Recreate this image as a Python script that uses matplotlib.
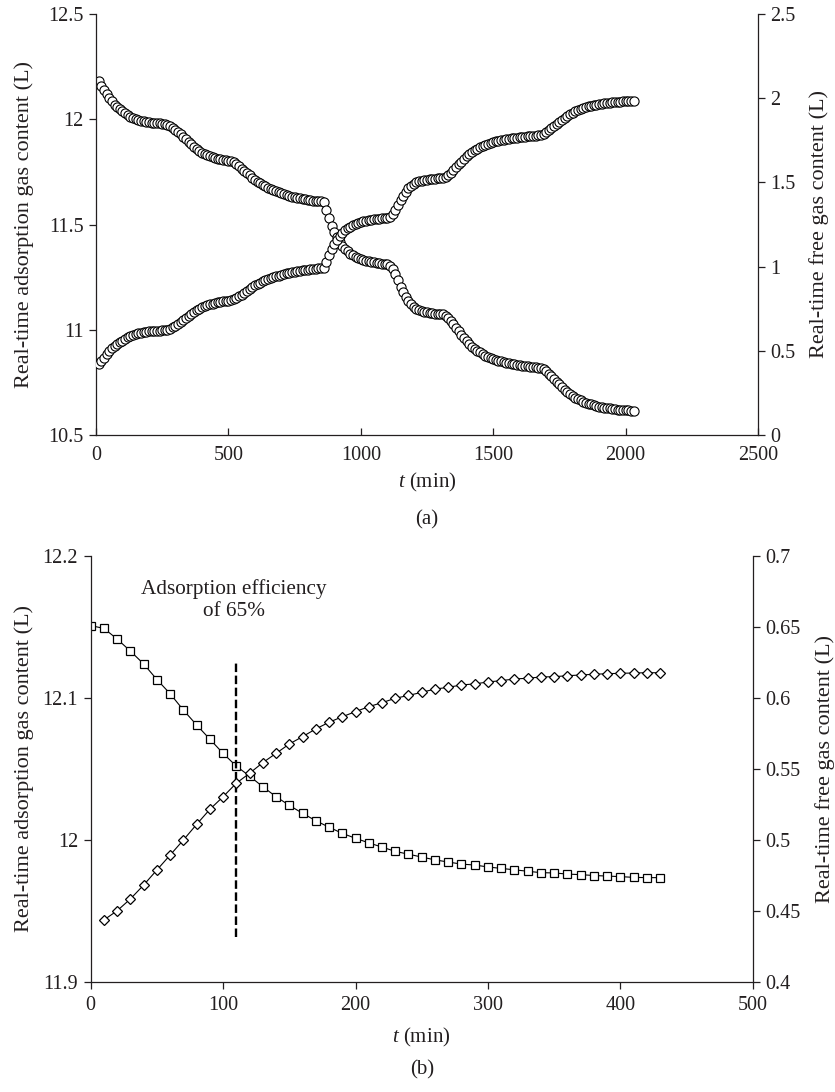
import numpy as np
import matplotlib
matplotlib.use("Agg")
import matplotlib.pyplot as plt
from matplotlib.ticker import FuncFormatter, MultipleLocator

plt.rcParams['font.family'] = ['Liberation Serif', 'DejaVu Serif']
plt.rcParams['mathtext.fontset'] = 'custom'
plt.rcParams['mathtext.it'] = 'Liberation Serif:italic'
plt.rcParams['mathtext.rm'] = 'Liberation Serif'
TXT = '#231f20'
FS = 14.5
FS_LAB = 16
FS_X = 15

# ---------------- panel (a) data ----------------
t_a = np.arange(10, 2031, 10)
ads_a = [
    12.18, 12.16, 12.14, 12.12, 12.10, 12.085, 12.07, 12.06, 12.05, 12.04,
    12.03, 12.02, 12.012, 12.005, 12.0, 11.996, 11.993, 11.99, 11.987, 11.985,
    11.983, 11.982, 11.981, 11.98, 11.979, 11.978, 11.975, 11.97, 11.96, 11.95,
    11.94, 11.93, 11.918, 11.906, 11.894, 11.882, 11.87, 11.86, 11.85, 11.842,
    11.835, 11.829, 11.824, 11.82, 11.816, 11.813, 11.81, 11.807, 11.805, 11.803,
    11.80, 11.795, 11.787, 11.777, 11.766, 11.755, 11.744, 11.733, 11.722, 11.712,
    11.703, 11.695, 11.688, 11.681, 11.675, 11.669, 11.663, 11.658, 11.653, 11.648,
    11.644, 11.64, 11.636, 11.633, 11.63, 11.627, 11.625, 11.622, 11.62, 11.618,
    11.616, 11.614, 11.613, 11.611, 11.61, 11.607, 11.57, 11.53, 11.495, 11.465,
    11.44, 11.418, 11.40, 11.385, 11.372, 11.362, 11.354, 11.347, 11.341, 11.336,
    11.332, 11.328, 11.325, 11.322, 11.32, 11.318, 11.316, 11.314, 11.312, 11.31,
    11.305, 11.29, 11.265, 11.235, 11.205, 11.178, 11.155, 11.136, 11.12, 11.108,
    11.10, 11.094, 11.09, 11.086, 11.083, 11.081, 11.079, 11.077, 11.076, 11.074,
    11.073, 11.066, 11.055, 11.042, 11.027, 11.01, 10.993, 10.976, 10.96, 10.945,
    10.932, 10.92, 10.909, 10.9, 10.892, 10.884, 10.877, 10.871, 10.866, 10.861,
    10.857, 10.853, 10.85, 10.847, 10.844, 10.841, 10.838, 10.836, 10.834, 10.832,
    10.83, 10.828, 10.826, 10.825, 10.823, 10.822, 10.82, 10.818, 10.812, 10.802,
    10.79, 10.778, 10.765, 10.752, 10.74, 10.728, 10.716, 10.705, 10.695, 10.686,
    10.678, 10.671, 10.665, 10.659, 10.654, 10.649, 10.645, 10.641, 10.638, 10.635,
    10.632, 10.63, 10.628, 10.626, 10.624, 10.622, 10.621, 10.62, 10.619, 10.618,
    10.617, 10.616, 10.616,
]
free_a = [
    0.42, 0.44, 0.46, 0.48, 0.50, 0.515, 0.53, 0.54, 0.55, 0.56,
    0.57, 0.58, 0.588, 0.595, 0.60, 0.604, 0.607, 0.61, 0.613, 0.615,
    0.617, 0.618, 0.619, 0.62, 0.621, 0.622, 0.625, 0.63, 0.64, 0.65,
    0.66, 0.67, 0.682, 0.694, 0.706, 0.718, 0.73, 0.74, 0.75, 0.758,
    0.765, 0.771, 0.776, 0.78, 0.784, 0.787, 0.79, 0.793, 0.795, 0.797,
    0.80, 0.805, 0.813, 0.823, 0.834, 0.845, 0.856, 0.867, 0.878, 0.888,
    0.897, 0.905, 0.912, 0.919, 0.925, 0.931, 0.937, 0.942, 0.947, 0.952,
    0.956, 0.96, 0.964, 0.967, 0.97, 0.973, 0.975, 0.978, 0.98, 0.982,
    0.984, 0.986, 0.987, 0.989, 0.99, 0.993, 1.03, 1.07, 1.105, 1.135,
    1.16, 1.182, 1.20, 1.215, 1.228, 1.238, 1.246, 1.253, 1.259, 1.264,
    1.268, 1.272, 1.275, 1.278, 1.28, 1.282, 1.284, 1.286, 1.288, 1.29,
    1.295, 1.31, 1.335, 1.365, 1.395, 1.422, 1.445, 1.464, 1.48, 1.492,
    1.50, 1.506, 1.51, 1.514, 1.517, 1.519, 1.521, 1.523, 1.524, 1.526,
    1.527, 1.534, 1.545, 1.558, 1.573, 1.59, 1.607, 1.624, 1.64, 1.655,
    1.668, 1.68, 1.691, 1.70, 1.708, 1.716, 1.723, 1.729, 1.734, 1.739,
    1.743, 1.747, 1.75, 1.753, 1.756, 1.759, 1.762, 1.764, 1.766, 1.768,
    1.77, 1.772, 1.774, 1.775, 1.777, 1.778, 1.78, 1.782, 1.788, 1.798,
    1.81, 1.822, 1.835, 1.848, 1.86, 1.872, 1.884, 1.895, 1.905, 1.914,
    1.922, 1.929, 1.935, 1.941, 1.946, 1.951, 1.955, 1.959, 1.962, 1.965,
    1.968, 1.97, 1.972, 1.974, 1.976, 1.978, 1.979, 1.98, 1.981, 1.982,
    1.983, 1.984, 1.984,
]

# ---------------- panel (b) data ----------------
t_b_ads = np.arange(0, 431, 10)
ads_b = [
    12.151, 12.149, 12.1415, 12.133, 12.124, 12.113, 12.103, 12.0915, 12.081, 12.071,
    12.061, 12.052, 12.045, 12.0375, 12.0305, 12.0244, 12.0188, 12.0136, 12.009, 12.0047,
    12.0012, 11.998, 11.995, 11.992, 11.990, 11.988, 11.986, 11.9845, 11.983, 11.9824,
    11.981, 11.980, 11.979, 11.978, 11.977, 11.9768, 11.976, 11.9756, 11.975, 11.9746,
    11.9742, 11.9737, 11.9735, 11.9735,
]
t_b_free = np.arange(10, 431, 10)
free_b = [
    0.4437, 0.4502, 0.4585, 0.4683, 0.4789, 0.4894, 0.500, 0.511, 0.5216, 0.5305,
    0.540, 0.547, 0.5545, 0.561, 0.5676, 0.5728, 0.5782, 0.5829, 0.5868, 0.5904,
    0.5939, 0.5967, 0.5998, 0.6018, 0.604, 0.6063, 0.6075, 0.6092, 0.6099, 0.6113,
    0.6122, 0.6134, 0.6139, 0.6148, 0.615, 0.6157, 0.6162, 0.6167, 0.6171, 0.6174,
    0.6176, 0.6178, 0.6178,
]
eff_t = 110
eff_ymin, eff_ymax = 11.932, 12.126
eff_label = "Adsorption efficiency\nof 65%"

ylab_left = "Real-time adsorption gas content (L)"
ylab_right = "Real-time free gas content (L)"

fmt = FuncFormatter(lambda v, p: '%g' % round(v, 4))

fig = plt.figure(figsize=(8.35, 10.92), dpi=100)


def style(ax, axr, xdir):
    for a in (ax, axr):
        a.spines['top'].set_visible(False)
        for s in a.spines.values():
            s.set_color(TXT)
            s.set_linewidth(0.9)
    ax.spines['right'].set_visible(False)
    axr.spines['left'].set_visible(False)
    axr.spines['bottom'].set_visible(False)
    ax.tick_params(axis='x', direction=xdir, length=5, width=0.9, colors=TXT,
                   labelsize=FS, pad=8 if xdir == 'in' else 5)
    ax.tick_params(axis='y', direction='out', length=5, width=0.9, colors=TXT,
                   labelsize=FS, pad=4)
    axr.tick_params(axis='y', direction='out', length=5, width=0.9, colors=TXT,
                    labelsize=FS, pad=4)
    for a in (ax, axr):
        a.xaxis.set_major_formatter(fmt)
        a.yaxis.set_major_formatter(fmt)


# ---- (a) ----
ax1 = fig.add_axes([96 / 835, 1 - 435 / 1092, 662 / 835, 421 / 1092])
ax1r = ax1.twinx()
ax1.plot(t_a, ads_a, 'o', ms=6.6, mfc='white', mec='black', mew=0.8)
ax1r.plot(t_a, free_a, 'o', ms=6.6, mfc='white', mec='black', mew=0.8)
ax1.set_xlim(0, 2500)
ax1.set_ylim(10.5, 12.5)
ax1r.set_ylim(0, 2.5)
ax1.xaxis.set_major_locator(MultipleLocator(500))
ax1.yaxis.set_major_locator(MultipleLocator(0.5))
ax1r.yaxis.set_major_locator(MultipleLocator(0.5))
style(ax1, ax1r, 'in')
ax1.set_xlabel(r'$t$ (min)', fontsize=FS_X, color=TXT)
ax1.xaxis.set_label_coords(0.5, -0.086)
ax1.set_ylabel(ylab_left, fontsize=FS_LAB, color=TXT)
ax1.yaxis.set_label_coords(-0.093, 0.5)
ax1r.set_ylabel(ylab_right, fontsize=FS_LAB, color=TXT)
ax1r.yaxis.set_label_coords(1.077, 0.5)
fig.text(427 / 835, 1 - 520 / 1092, '(a)', ha='center', va='center',
         fontsize=FS_X, color=TXT)

# ---- (b) ----
ax2 = fig.add_axes([90.7 / 835, 1 - 982 / 1092, 662 / 835, 426 / 1092])
ax2r = ax2.twinx()
ax2.plot(t_b_ads, ads_b, '-s', color='black', lw=0.8, ms=5.4, mfc='white',
         mec='black', mew=0.9)
ax2r.plot(t_b_free, free_b, '-D', color='black', lw=0.8, ms=4.8, mfc='white',
          mec='black', mew=0.9)
ax2.vlines(eff_t, eff_ymin, eff_ymax, colors='black', linewidth=1.7,
           linestyles=(0, (3.6, 1.5)))
ax2.text(108, 12.169, eff_label, ha='center', va='center', fontsize=15.3,
         color=TXT, linespacing=1.2)
ax2.set_xlim(0, 500)
ax2.set_ylim(11.9, 12.2)
ax2r.set_ylim(0.4, 0.7)
ax2.xaxis.set_major_locator(MultipleLocator(100))
ax2.yaxis.set_major_locator(MultipleLocator(0.1))
ax2r.yaxis.set_major_locator(MultipleLocator(0.05))
style(ax2, ax2r, 'out')
ax2.set_xlabel(r'$t$ (min)', fontsize=FS_X, color=TXT)
ax2.xaxis.set_label_coords(0.5, -0.103)
ax2.set_ylabel(ylab_left, fontsize=FS_LAB, color=TXT)
ax2.yaxis.set_label_coords(-0.085, 0.5)
ax2r.set_ylabel(ylab_right, fontsize=FS_LAB, color=TXT)
ax2r.yaxis.set_label_coords(1.094, 0.5)
fig.text(422 / 835, 1 - 1070 / 1092, '(b)', ha='center', va='center',
         fontsize=FS_X, color=TXT)

fig.savefig('out.png', dpi=100)
